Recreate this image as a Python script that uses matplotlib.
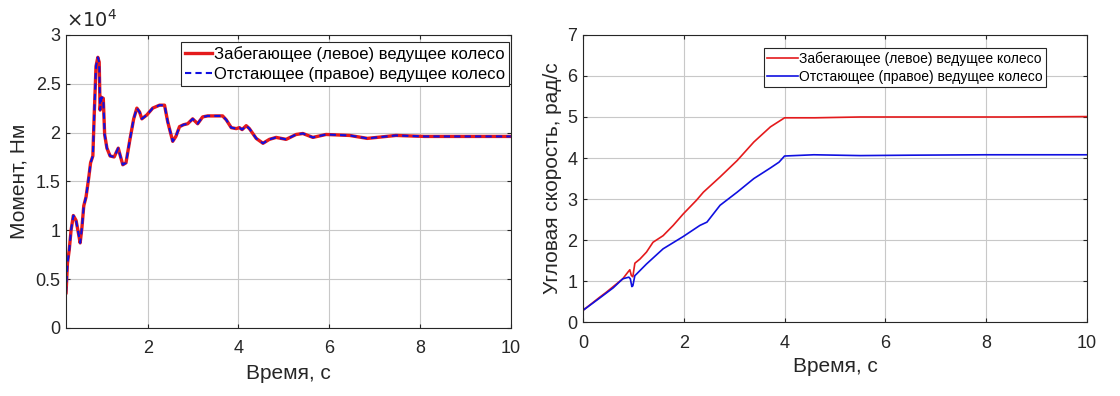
import matplotlib
matplotlib.use('Agg')
import matplotlib.pyplot as plt

plt.rcParams['font.family'] = ['Liberation Sans', 'DejaVu Sans']

# left panel: torque, units of 1e4 N*m (both wheels practically identical)
t_torque = [0.20, 0.23, 0.27, 0.31, 0.36, 0.42, 0.48, 0.51, 0.55, 0.59, 0.64, 0.70,
            0.74, 0.79, 0.82, 0.86, 0.90, 0.93, 0.95, 0.98, 1.02, 1.05, 1.10, 1.17,
            1.26, 1.35, 1.39, 1.45, 1.52, 1.60, 1.69, 1.76, 1.82, 1.87, 1.98, 2.11,
            2.26, 2.37, 2.44, 2.55, 2.62, 2.70, 2.79, 2.88, 2.99, 3.10, 3.21, 3.32,
            3.65, 3.73, 3.84, 3.95, 4.02, 4.08, 4.17, 4.24, 4.39, 4.54, 4.68, 4.83,
            5.05, 5.27, 5.42, 5.64, 5.93, 6.45, 6.84, 7.47, 8.10, 8.96, 10.0]
torque_left = [0.36, 0.66, 0.80, 1.00, 1.15, 1.10, 0.95, 0.87, 1.03, 1.25, 1.34, 1.54,
               1.69, 1.76, 2.18, 2.68, 2.77, 2.72, 2.23, 2.36, 2.35, 1.98, 1.84, 1.76,
               1.75, 1.84, 1.77, 1.67, 1.69, 1.91, 2.14, 2.25, 2.21, 2.14, 2.18, 2.25,
               2.28, 2.28, 2.11, 1.91, 1.96, 2.06, 2.08, 2.09, 2.14, 2.09, 2.16, 2.17,
               2.17, 2.13, 2.05, 2.04, 2.05, 2.03, 2.07, 2.04, 1.94, 1.89, 1.93, 1.95,
               1.93, 1.98, 1.99, 1.95, 1.98, 1.97, 1.94, 1.97, 1.96, 1.96, 1.96]
torque_right = torque_left

# right panel: angular speed, rad/s
t_red = [0.0, 0.0, 0.01, 0.33, 0.46, 0.66, 0.79, 0.89, 0.93, 0.96, 0.99, 1.01, 1.03,
         1.13, 1.26, 1.39, 1.59, 1.79, 1.99, 2.25, 2.39, 2.72, 3.06, 3.39, 3.72, 4.0,
         4.6, 5.5, 7.0, 8.5, 10.0]
omega_left = [0.0, 0.45, 0.30, 0.61, 0.73, 0.93, 1.06, 1.22, 1.28, 1.14, 1.11, 1.28, 1.44,
              1.54, 1.71, 1.95, 2.11, 2.36, 2.64, 2.97, 3.17, 3.54, 3.94, 4.39, 4.76, 4.98,
              4.98, 5.0, 5.0, 5.0, 5.01]
t_blue = [0.0, 0.0, 0.01, 0.33, 0.60, 0.79, 0.91, 0.94, 0.97, 0.99, 1.03, 1.05, 1.26,
          1.59, 1.99, 2.32, 2.46, 2.72, 3.06, 3.39, 3.72, 3.89, 4.0, 4.58, 5.5, 6.5,
          8.0, 10.0]
omega_right = [0.0, 0.45, 0.30, 0.59, 0.84, 1.06, 1.10, 1.06, 0.87, 0.89, 1.14, 1.16, 1.42,
               1.79, 2.09, 2.36, 2.44, 2.85, 3.17, 3.50, 3.76, 3.90, 4.05, 4.08, 4.06, 4.07,
               4.08, 4.08]

label_left = 'Забегающее (левое) ведущее колесо'
label_right = 'Отстающее (правое) ведущее колесо'

fig = plt.figure(figsize=(11.2, 3.96), dpi=100)
ax1 = fig.add_axes([0.059, 0.172, 0.397, 0.740])
ax2 = fig.add_axes([0.5205, 0.186, 0.45, 0.726])

dark = '#262626'
for ax in (ax1, ax2):
    ax.grid(True, color='#c8c8c8', linewidth=0.8)
    ax.set_axisbelow(True)
    for s in ax.spines.values():
        s.set_color(dark)
        s.set_linewidth(0.8)
    ax.tick_params(direction='in', length=3, colors=dark, labelsize=13,
                   top=True, right=True)
    ax.tick_params(axis='x', pad=9)
    ax.tick_params(axis='y', pad=4)

ax1.plot(t_torque, torque_left, color='#e41a1c', linewidth=2.4, label=label_left)
ax1.plot(t_torque, torque_right, color='#1010e0', linewidth=1.5, linestyle=(0, (3, 2)),
         label=label_right)
ax1.set_xlim(0.2, 10)
ax1.set_ylim(0, 3)
ax1.set_xticks([2, 4, 6, 8, 10])
ax1.set_yticks([0, 0.5, 1, 1.5, 2, 2.5, 3])
ax1.set_yticklabels(['0', '0.5', '1', '1.5', '2', '2.5', '3'])
ax1.set_xlabel('Время, с', fontsize=15, color=dark, labelpad=5)
ax1.set_ylabel('Момент, Нм', fontsize=15, color=dark, labelpad=5)
ax1.text(0.0, 1.015, r'$\times10^4$', transform=ax1.transAxes, fontsize=14,
         color=dark, ha='left', va='bottom')
leg1 = ax1.legend(loc='upper right', bbox_to_anchor=(0.996, 0.976), fontsize=12,
                  handlelength=1.6, handletextpad=0.1, borderpad=0.25, labelspacing=0.3,
                  fancybox=False, framealpha=1, borderaxespad=0)
leg1.get_frame().set_edgecolor(dark)
leg1.get_frame().set_linewidth(0.8)

ax2.plot(t_red, omega_left, color='#e41a1c', linewidth=1.2, label=label_left)
ax2.plot(t_blue, omega_right, color='#1010e0', linewidth=1.2, label=label_right)
ax2.set_xlim(0, 10)
ax2.set_ylim(0, 7)
ax2.set_xticks([0, 2, 4, 6, 8, 10])
ax2.set_yticks(range(8))
ax2.set_xlabel('Время, с', fontsize=15, color=dark, labelpad=4)
ax2.set_ylabel('Угловая скорость, рад/с', fontsize=15, color=dark)
leg2 = ax2.legend(loc='upper right', bbox_to_anchor=(0.919, 0.955), fontsize=10,
                  handlelength=2.2, handletextpad=0.1, borderpad=0.25, labelspacing=0.3,
                  fancybox=False, framealpha=1, borderaxespad=0)
leg2.get_frame().set_edgecolor(dark)
leg2.get_frame().set_linewidth(0.8)

fig.savefig('out.png', dpi=100)
